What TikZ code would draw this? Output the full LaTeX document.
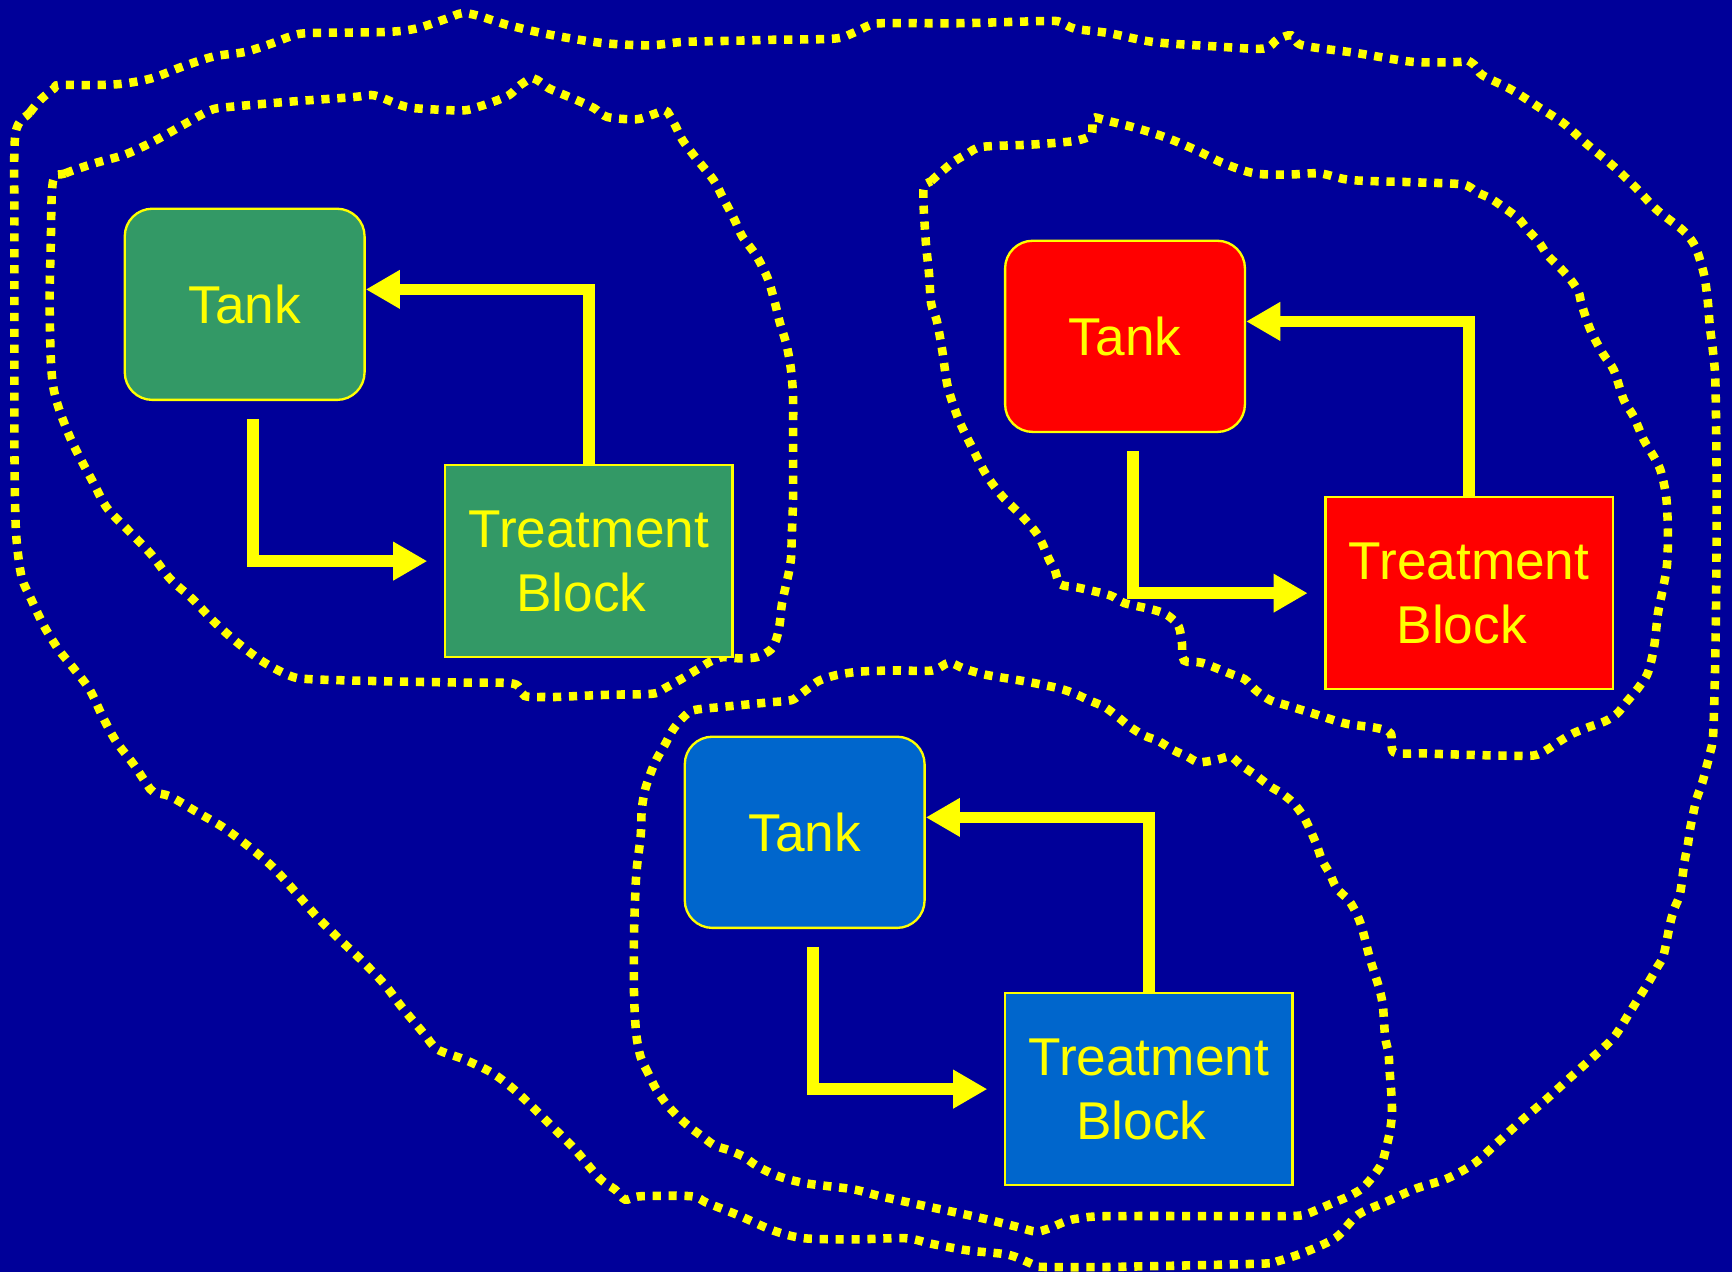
\documentclass[tikz,border=0pt]{standalone}
\usepackage{fontspec}
\setmainfont{Liberation Sans}
\usetikzlibrary{arrows.meta}
\definecolor{navybg}{RGB}{0,0,153}
\definecolor{tgreen}{RGB}{51,153,102}
\definecolor{tred}{RGB}{255,0,0}
\definecolor{tblue}{RGB}{0,102,204}
\definecolor{tyellow}{RGB}{255,255,0}
\begin{document}
\begin{tikzpicture}[x=0.01cm,y=-0.01cm,
  boxtext/.style={text=tyellow,font=\fontsize{13.7}{16.5}\selectfont,align=center,inner sep=0pt},
  tankbox/.style={boxtext,draw=tyellow,line width=0.6pt,rectangle,rounded corners=0.25cm,minimum width=2.17cm,minimum height=1.73cm},
  treatbox/.style={boxtext,draw=tyellow,line width=0.6pt,rectangle,minimum width=2.6cm,minimum height=1.74cm},
  arr/.style={draw=tyellow,line width=3pt,-{Triangle[length=8.8pt,width=9.4pt]}},
  dotline/.style={draw=tyellow,line width=2.2pt,dash pattern=on 2.1pt off 2.0pt}]
\fill[navybg] (0,0) rectangle (1568,1152);
\useasboundingbox (0,0) rectangle (1568,1152);

% outer boundary
\draw[dotline] plot[smooth cycle,tension=0.5] coordinates {
(14,121) (27,102) (37,90) (49,80) (53,77) (81,77) (109,76) (137,71) (166,60) (194,51) (222,47) (247,39) (263,33) (279,30) (348,29) (376,26) (404,17) (418,12) (432,14) (461,23) (501,32) (546,39) (588,41) (618,38) (660,37) (700,36) (755,35) (772,30) (787,23) (800,21) (871,21) (948,19) (960,20) (973,26) (1004,30) (1044,38) (1100,42) (1144,44) (1156,36) (1169,32) (1179,41) (1228,48) (1279,56) (1322,56) (1327,54) (1335,59) (1342,68) (1368,81) (1393,97) (1416,112) (1436,130) (1459,149) (1480,169) (1500,190) (1523,208) (1533,220) (1538,232) (1543,250) (1546,272) (1548,296) (1551,320) (1553,347) (1554,423) (1554,498) (1553,589) (1551,664) (1548,682) (1545,694) (1541,709) (1536,723) (1533,736) (1530,751) (1528,765) (1525,780) (1521,809) (1516,822) (1512,836) (1506,865) (1500,876) (1492,890) (1477,914) (1461,939) (1441,958) (1421,976) (1399,996) (1378,1014) (1356,1034) (1335,1053) (1310,1067) (1282,1076) (1255,1088) (1229,1100) (1210,1120) (1183,1133) (1156,1142) (1142,1144) (1005,1147) (945,1147) (936,1145) (913,1136) (876,1132) (843,1126) (820,1121) (774,1122) (728,1121) (700,1114) (668,1100) (640,1089) (626,1083) (580,1083) (566,1086) (557,1077) (543,1067) (520,1040) (500,1020) (485,1005) (465,986) (445,971) (420,959) (396,950) (384,936) (364,912) (348,891) (327,869) (307,850) (287,830) (267,807) (247,785) (226,767) (202,749) (178,735) (154,721) (139,717) (133,710) (121,692) (105,671) (93,649) (81,624) (65,603) (53,588) (40,567) (28,542) (20,524) (16,499) (14,470) (13,400) (13,300) (13,200)};

% green region
\draw[dotline] plot[smooth cycle,tension=0.5] coordinates {
(48,164) (59,157) (85,148) (113,140) (139,128) (166,113) (190,100) (206,97) (263,92) (319,88) (336,86) (347,89) (362,95) (376,98) (418,100) (432,97) (447,92) (461,86) (471,77) (483,71) (497,80) (511,86) (523,91) (538,98) (550,106) (576,108) (590,104) (602,100) (606,104) (612,115) (618,127) (630,143) (646,163) (654,178) (665,199) (672,214) (685,232) (695,252) (701,272) (706,292) (712,312) (716,334) (718,360) (718,400) (718,450) (717,480) (716,507) (714,519) (708,546) (706,564) (703,578) (698,588) (685,595) (669,596) (654,595) (643,599) (633,605) (618,614) (602,623) (591,628) (550,629) (503,631) (493,631) (475,630) (465,619) (420,618) (360,617) (283,615) (263,612) (238,599) (214,581) (194,563) (174,542) (154,524) (137,502) (117,481) (97,460) (85,438) (63,395) (48,349) (45,281) (46,220)};

% red region
\draw[dotline] plot[smooth cycle,tension=0.5] coordinates {
(836,172) (843,164) (853,155) (864,146) (876,139) (889,133) (932,131) (960,129) (976,127) (988,122) (990,107) (1001,109) (1029,116) (1057,125) (1083,136) (1108,148) (1136,157) (1167,158) (1195,157) (1223,163) (1279,165) (1324,167) (1337,174) (1350,180) (1363,189) (1375,198) (1383,208) (1393,219) (1401,231) (1411,241) (1421,252) (1429,264) (1432,276) (1440,299) (1451,320) (1461,335) (1470,362) (1479,377) (1488,398) (1497,413) (1503,425) (1507,441) (1509,456) (1510,483) (1509,513) (1504,540) (1501,555) (1498,582) (1495,598) (1491,611) (1483,623) (1473,635) (1464,646) (1453,653) (1439,658) (1424,664) (1412,671) (1400,679) (1388,684) (1358,684) (1316,683) (1288,682) (1262,681) (1259,664) (1246,659) (1218,655) (1189,646) (1163,638) (1150,634) (1137,625) (1127,615) (1114,610) (1088,600) (1072,598) (1070,582) (1067,567) (1057,557) (1044,552) (1018,546) (1005,539) (976,532) (960,529) (955,516) (950,507) (940,485) (925,467) (908,450) (893,430) (880,405) (868,380) (858,350) (853,317) (848,290) (843,275) (841,247) (838,217)};

% blue region
\draw[dotline] plot[smooth cycle,tension=0.5] coordinates {
(594,986) (587,972) (580,957) (576,936) (574,900) (574,846) (576,792) (580,757) (581,733) (584,715) (589,700) (594,688) (602,674) (609,661) (618,650) (628,643) (654,640) (695,636) (716,634) (724,629) (732,623) (742,616) (758,611) (779,608) (810,607) (844,607) (859,600) (872,605) (893,611) (929,617) (958,623) (973,628) (986,634) (1000,640) (1012,649) (1023,658) (1036,666) (1049,671) (1062,679) (1075,685) (1085,690) (1101,688) (1114,685) (1124,693) (1137,702) (1150,712) (1160,718) (1171,727) (1180,739) (1186,751) (1192,765) (1197,779) (1204,791) (1210,804) (1221,815) (1228,827) (1233,840) (1240,867) (1245,883) (1249,896) (1252,911) (1254,939) (1257,953) (1258,969) (1260,996) (1260,1011) (1258,1026) (1255,1039) (1251,1053) (1243,1065) (1233,1076) (1221,1083) (1207,1089) (1193,1095) (1180,1100) (1165,1101) (1138,1101) (1005,1101) (977,1103) (964,1106) (950,1112) (938,1115) (922,1111) (894,1104) (867,1098) (843,1093) (820,1088) (797,1083) (774,1077) (751,1074) (728,1071) (705,1065) (686,1056) (673,1047) (659,1041) (647,1037) (636,1029) (624,1020) (612,1009) (603,999)};

% boxes
\node[tankbox,fill=tgreen] (gt) at (221.5,275.5) {Tank};
\node[treatbox,fill=tgreen] (gb) at (533,508) {Treatment\\Block\hspace*{0.28em}};
\node[tankbox,fill=tred] (rt) at (1018.5,304.5) {Tank};
\node[treatbox,fill=tred] (rb) at (1330,537) {Treatment\\Block\hspace*{0.28em}};
\node[tankbox,fill=tblue] (bt) at (728.5,753.5) {Tank};
\node[treatbox,fill=tblue] (bb) at (1040,986) {Treatment\\Block\hspace*{0.28em}};

% connectors
\foreach \t/\b in {gt/gb,rt/rb,bt/bb}{
  \draw[arr] (\b.north) |- ([yshift=0.135cm]\t.east);
  \draw[arr] ([xshift=0.075cm,yshift=-0.16cm]\t.south) |- ([xshift=-0.15cm]\b.west);
}
\end{tikzpicture}
\end{document}
